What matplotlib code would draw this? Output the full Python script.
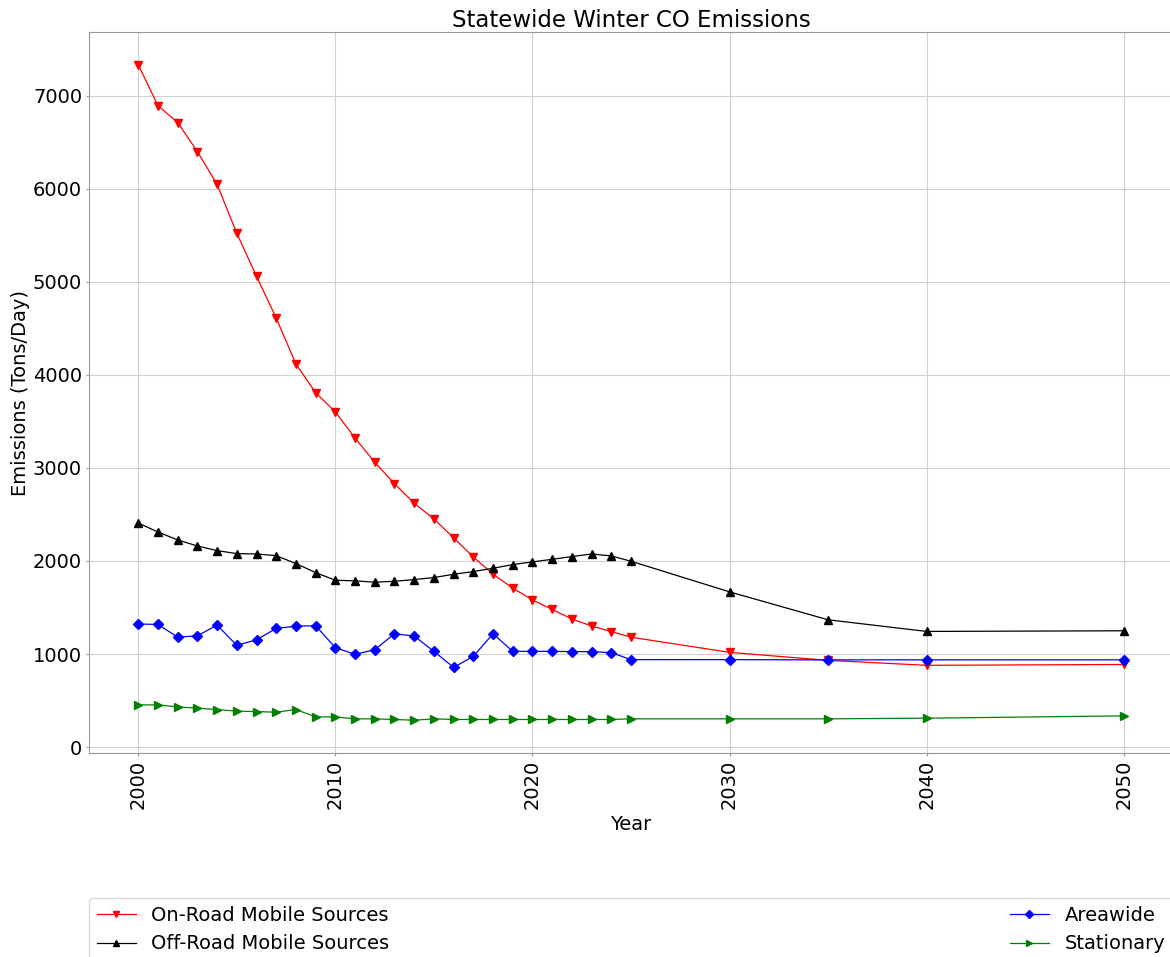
import matplotlib
matplotlib.use("Agg")
import matplotlib.pyplot as plt

years = [2000, 2001, 2002, 2003, 2004, 2005, 2006, 2007, 2008, 2009,
         2010, 2011, 2012, 2013, 2014, 2015, 2016, 2017, 2018, 2019,
         2020, 2021, 2022, 2023, 2024, 2025, 2030, 2035, 2040, 2050]

on_road = [7331, 6892, 6710, 6399, 6045, 5520, 5059, 4609, 4116, 3808,
           3601, 3321, 3060, 2830, 2620, 2452, 2249, 2043, 1858, 1708,
           1582, 1479, 1376, 1302, 1241, 1181, 1018, 932, 879, 888]

off_road = [2408, 2311, 2226, 2161, 2111, 2079, 2075, 2057, 1972, 1875,
            1793, 1786, 1772, 1782, 1800, 1822, 1857, 1886, 1922, 1961,
            1990, 2018, 2047, 2075, 2054, 1997, 1668, 1368, 1243, 1250]

areawide = [1323, 1318, 1182, 1196, 1311, 1093, 1154, 1275, 1300, 1304,
            1068, 997, 1047, 1218, 1193, 1029, 857, 975, 1218, 1029,
            1029, 1029, 1026, 1026, 1015, 940, 940, 937, 938, 938]

stationary = [454, 454, 432, 418, 404, 386, 382, 375, 404, 325,
              325, 304, 304, 297, 289, 304, 297, 297, 297, 297,
              297, 297, 297, 297, 297, 304, 304, 304, 311, 336]

fig = plt.figure(figsize=(11.7, 9.57), dpi=100)
# axes runs a little past the right edge, like the original crop
ax = fig.add_axes([89 / 1170, 1 - 753 / 957, 1084 / 1170, 721 / 957])

ax.plot(years, on_road, color='red', marker='v', lw=0.9, ms=5.5, label='On-Road Mobile Sources')
ax.plot(years, off_road, color='black', marker='^', lw=0.9, ms=5.5, label='Off-Road Mobile Sources')
ax.plot(years, areawide, color='blue', marker='D', lw=0.9, ms=5.5, label='Areawide')
ax.plot(years, stationary, color='green', marker='>', lw=0.9, ms=5.5, label='Stationary')

ax.grid(True, color='#d0d0d0', lw=0.8)
ax.set_axisbelow(True)
for s in ax.spines.values():
    s.set_color('#999999')

ax.set_title('Statewide Winter CO Emissions', fontsize=16.5, pad=3.5)
ax.set_xlabel('Year', fontsize=14)
ax.set_ylabel('Emissions (Tons/Day)', fontsize=14, labelpad=2)
ax.tick_params(labelsize=14, length=2, pad=3, color='#999999')
ax.tick_params(axis='x', labelrotation=90)

ax.legend(loc='upper left', bbox_to_anchor=(0, -0.201, 1, 0), mode='expand',
          ncol=2, borderaxespad=0, fontsize=14, markerscale=0.8)

fig.savefig('out.png', dpi=100)
